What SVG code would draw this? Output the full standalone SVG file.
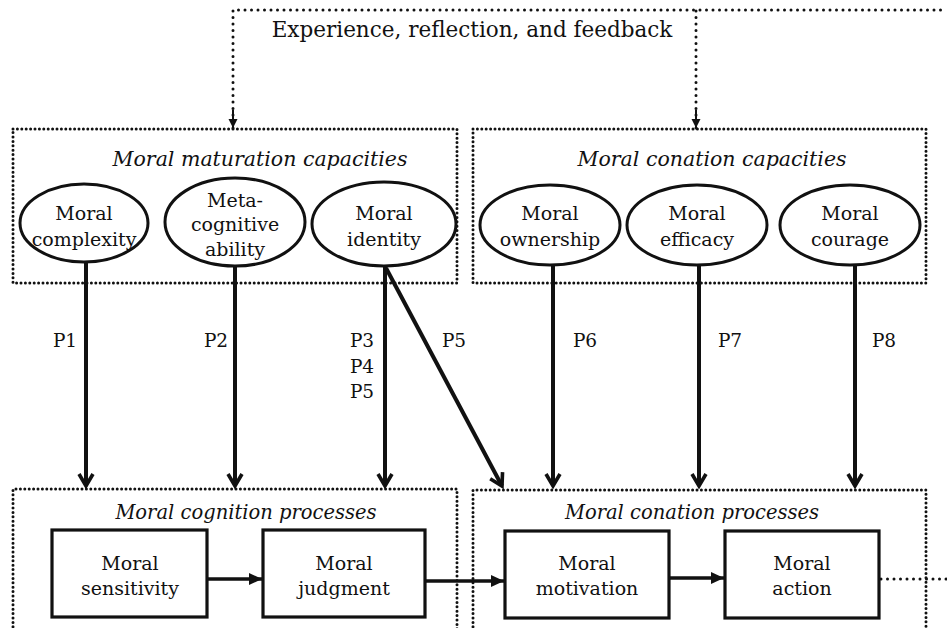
<svg xmlns="http://www.w3.org/2000/svg" width="947" height="628" viewBox="0 0 947 628">
<style>
.t{font-family:"DejaVu Serif","Liberation Serif",serif;font-size:19px;fill:#111;text-anchor:middle}
.big{font-size:21.5px}
.it{font-family:"DejaVu Serif","Liberation Serif",serif;font-style:italic;font-size:20.5px;fill:#111;text-anchor:middle}
.it2{font-size:19.5px}
.lab{font-family:"DejaVu Serif","Liberation Serif",serif;font-size:18.5px;fill:#111;text-anchor:middle}
.box{fill:none;stroke:#111;stroke-width:3;stroke-dasharray:0 4.4;stroke-linecap:round}
.fb{fill:none;stroke:#111;stroke-width:3;stroke-dasharray:0 6.5;stroke-linecap:round}
.ell{fill:#fff;stroke:#111;stroke-width:3}
.rect{fill:#fff;stroke:#111;stroke-width:3.2}
.arr{fill:none;stroke:#111;stroke-width:4;marker-end:url(#chev)}
.harr{fill:none;stroke:#111;stroke-width:3.5;marker-end:url(#tri)}
</style>
<defs>
<marker id="chev" viewBox="-16 -10 20 20" refX="0" refY="0" markerWidth="20" markerHeight="20" markerUnits="userSpaceOnUse" orient="auto">
<path d="M -12 -7 L 0 0 L -12 7" fill="none" stroke="#111" stroke-width="3.6" stroke-linejoin="miter"/>
</marker>
<marker id="tri" viewBox="-14 -8 16 16" refX="0" refY="0" markerWidth="16" markerHeight="16" markerUnits="userSpaceOnUse" orient="auto">
<path d="M -13 -6 L 0 0 L -13 6 Z" fill="#111"/>
</marker>
<marker id="dtri" viewBox="-10 -6 12 12" refX="0" refY="0" markerWidth="12" markerHeight="12" markerUnits="userSpaceOnUse" orient="auto">
<path d="M -9 -4.5 L 0 0 L -9 4.5 Z" fill="#111"/>
</marker>
</defs>

<g id="feedback">
<text class="t big" x="472" y="37">Experience, reflection, and feedback</text>
</g>

<g id="group-maturation">
<rect class="box" x="13" y="129" width="444" height="154"/>
<text class="it" x="260" y="166">Moral maturation capacities</text>
</g>
<g id="group-conation-capacities">
<rect class="box" x="473" y="129" width="453" height="154"/>
<text class="it" x="712" y="166">Moral conation capacities</text>
</g>
<g id="group-cognition-processes">
<path class="box" d="M13 640 V489 H457 V640"/>
<text class="it it2" x="246" y="519">Moral cognition processes</text>
</g>
<g id="group-conation-processes">
<path class="box" d="M473 640 V490 H926 V640"/>
<text class="it it2" x="692" y="519">Moral conation processes</text>
</g>

<g id="connectors">
<path class="fb" d="M233 128 V10 H947"/>
<path class="fb" d="M696 128 V10"/>
<path d="M233 110 V128" fill="none" stroke="#111" stroke-width="2" marker-end="url(#dtri)"/>
<path d="M696 110 V128" fill="none" stroke="#111" stroke-width="2" marker-end="url(#dtri)"/>
<path class="arr" d="M86 262 V486"/>
<path class="arr" d="M235 266 V486"/>
<path class="arr" d="M385 266 V486"/>
<path class="arr" d="M386 268 L502 486"/>
<path class="arr" d="M553 265 V486"/>
<path class="arr" d="M699 265 V486"/>
<path class="arr" d="M855 265 V486"/>
<path class="harr" d="M207 579 H262"/>
<path class="harr" d="M425 581 H504"/>
<path class="harr" d="M669 578 H724"/>
<path class="fb" d="M881 579 H947"/>
<text class="lab" x="65" y="347">P1</text>
<text class="lab" x="216" y="347">P2</text>
<text class="lab" x="362" y="347">P3</text>
<text class="lab" x="362" y="373">P4</text>
<text class="lab" x="362" y="398">P5</text>
<text class="lab" x="454" y="347">P5</text>
<text class="lab" x="585" y="347">P6</text>
<text class="lab" x="730" y="347">P7</text>
<text class="lab" x="884" y="347">P8</text>
</g>

<g id="node-complexity">
<ellipse class="ell" cx="84" cy="223" rx="64" ry="39"/>
<text class="t" x="84" y="220">Moral</text>
<text class="t" x="84" y="246">complexity</text>
</g>
<g id="node-metacognitive">
<ellipse class="ell" cx="235" cy="222" rx="70" ry="44"/>
<text class="t" x="235" y="207">Meta-</text>
<text class="t" x="235" y="231">cognitive</text>
<text class="t" x="235" y="256">ability</text>
</g>
<g id="node-identity">
<ellipse class="ell" cx="384" cy="224" rx="72" ry="42"/>
<text class="t" x="384" y="220">Moral</text>
<text class="t" x="384" y="246">identity</text>
</g>
<g id="node-ownership">
<ellipse class="ell" cx="550" cy="225" rx="70" ry="40"/>
<text class="t" x="550" y="220">Moral</text>
<text class="t" x="550" y="246">ownership</text>
</g>
<g id="node-efficacy">
<ellipse class="ell" cx="697" cy="225" rx="70" ry="40"/>
<text class="t" x="697" y="220">Moral</text>
<text class="t" x="697" y="246">efficacy</text>
</g>
<g id="node-courage">
<ellipse class="ell" cx="850" cy="225" rx="70" ry="40"/>
<text class="t" x="850" y="220">Moral</text>
<text class="t" x="850" y="246">courage</text>
</g>

<g id="node-sensitivity">
<rect class="rect" x="52" y="530" width="155" height="87"/>
<text class="t" x="130" y="570">Moral</text>
<text class="t" x="130" y="595">sensitivity</text>
</g>
<g id="node-judgment">
<rect class="rect" x="263" y="530" width="162" height="87"/>
<text class="t" x="344" y="570">Moral</text>
<text class="t" x="344" y="595">judgment</text>
</g>
<g id="node-motivation">
<rect class="rect" x="505" y="531" width="164" height="87"/>
<text class="t" x="587" y="570">Moral</text>
<text class="t" x="587" y="595">motivation</text>
</g>
<g id="node-action">
<rect class="rect" x="725" y="531" width="154" height="87"/>
<text class="t" x="802" y="570">Moral</text>
<text class="t" x="802" y="595">action</text>
</g>
</svg>
